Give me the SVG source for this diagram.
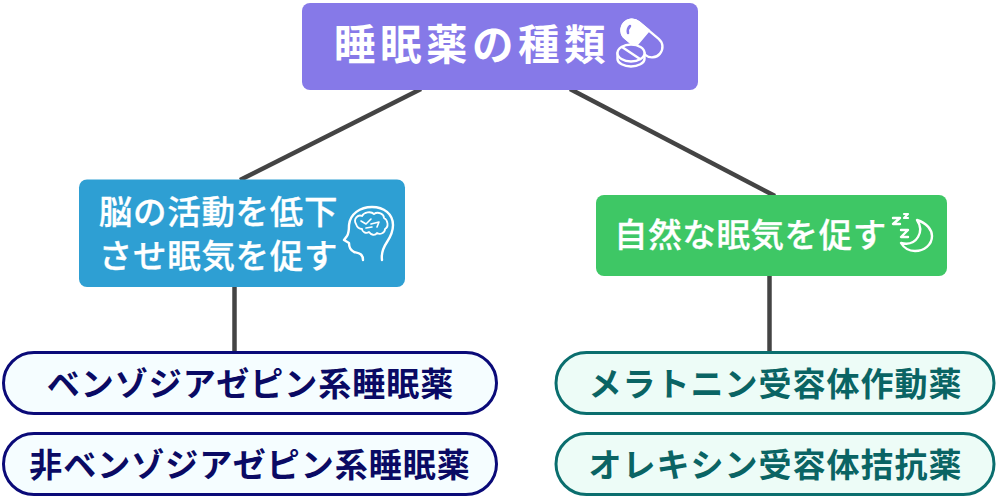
<svg xmlns="http://www.w3.org/2000/svg" width="1000" height="500" viewBox="0 0 1000 500">
<style>
text{font-family:"Noto Sans CJK JP","Noto Sans",sans-serif;text-anchor:middle;font-weight:700}
.w{fill:#fff}
.m{font-weight:500}
.ic{fill:none;stroke:#fff;stroke-width:2.400;stroke-linecap:round;stroke-linejoin:round}
.p1{fill:#f5fdff;stroke:#0a0a78;stroke-width:3}
.p2{fill:#edfcf7;stroke:#0a6e6e;stroke-width:3}
.t1{fill:#0a0a64;font-size:33px;letter-spacing:1px}
.t2{fill:#0a6464;font-size:33px;letter-spacing:1px}
</style>
<rect width="1000" height="500" fill="#fff"/>
<g id="connectors" stroke="#444" stroke-width="4.500" fill="none">
<line x1="421" y1="89" x2="240" y2="180"/>
<line x1="570" y1="89" x2="775" y2="196"/>
<line x1="234.500" y1="286" x2="234.500" y2="353"/>
<line x1="769.500" y1="275" x2="769.500" y2="353"/>
</g>
<g id="root">
<rect x="302" y="3" width="396" height="87" rx="8" fill="#8679e8"/>
<text class="w" x="472" y="60" font-size="41.500" letter-spacing="4.500">睡眠薬の種類</text>
<g class="ic">
<g transform="rotate(40 642 38.500)">
<rect x="618.500" y="28" width="47" height="21" rx="10.500"/>
<path d="M642 28 H629 A10.500 10.500 0 0 0 629 49 H642Z" fill="#fff"/>
</g>
<path d="M630 26 Q627 29 628 33" stroke="#8679e8" stroke-width="2.500"/>
<path d="M617.500 53 V59 C617.500 63 624 66.500 631 66.500 C638 66.500 644.500 63 644.500 59 V53" fill="#8679e8"/>
<ellipse cx="631" cy="53" rx="13.500" ry="8.500" fill="#8679e8"/>
<path d="M622 47 L640 59"/>
</g>
</g>
<g id="left">
<rect x="79" y="179.500" width="326" height="107.500" rx="8" fill="#2e9fd3"/>
<text class="w m" x="218.500" y="223.500" font-size="33.500" letter-spacing=".7" stroke="#fff" stroke-width=".3">脳の活動を低下</text>
<text class="w m" x="218.500" y="268" font-size="33.500" letter-spacing=".7" stroke="#fff" stroke-width=".3">させ眠気を促す</text>
<g class="ic">
<path d="M382 260 C381 253 383 248 387 242 C391 236 393 231 393 225 C393 214 384 207 372 207 C360 207 350 214 349 225 C349 231 349 233 347 236 L344 240 L349 243 C349 247 350 250 354 252 C358 253 363 253 363 260"/>
<path d="M356 224 C353 219 358 214 362 216 C364 212 371 211 374 214 C378 211 384 214 384 218 C388 220 389 227 385 229 C385 233 380 235 377 233 C375 236 371 235 369 232 C366 234 362 232 362 229 C359 229 357 227 356 224Z" stroke-width="1.800"/>
<path d="M361 221 L366 224 L371 219 M371 224 L379 222 L377 227 M366 228 L372 227" stroke-width="1.600"/>
</g>
</g>
<g id="right">
<rect x="596" y="195" width="351" height="81" rx="8" fill="#3ec765"/>
<text class="w m" x="750.500" y="247" font-size="33.500" letter-spacing=".6" stroke="#fff" stroke-width=".3">自然な眠気を促す</text>
<g class="ic" stroke-width="2.600">
<path d="M917 220 C927 223 932 230 932 236 C932 245 924 251 915 251 C909 251 904 248 901 243 C909 245 915 242 918 237 C921 232 921 226 917 220Z"/>
<path d="M901 230 H908 L901 237 H908"/>
<path d="M893 218 H900 L893 224 H900" stroke-width="2.400"/>
<path d="M904 214 H908 L904 218 H908" stroke-width="2.200"/>
</g>
</g>
<g id="benzo">
<rect x="3.500" y="352.500" width="493" height="61" rx="30.500" class="p1"/>
<text class="t1" x="250.500" y="396">ベンゾジアゼピン系睡眠薬</text>
</g>
<g id="nonbenzo">
<rect x="3.500" y="433.500" width="493" height="61" rx="30.500" class="p1"/>
<text class="t1" x="250" y="477">非ベンゾジアゼピン系睡眠薬</text>
</g>
<g id="melatonin">
<rect x="556" y="352.500" width="438" height="61" rx="30.500" class="p2"/>
<text class="t2" x="775.500" y="396">メラトニン受容体作動薬</text>
</g>
<g id="orexin">
<rect x="556" y="433.500" width="438" height="61" rx="30.500" class="p2"/>
<text class="t2" x="775.500" y="477">オレキシン受容体拮抗薬</text>
</g>
</svg>
